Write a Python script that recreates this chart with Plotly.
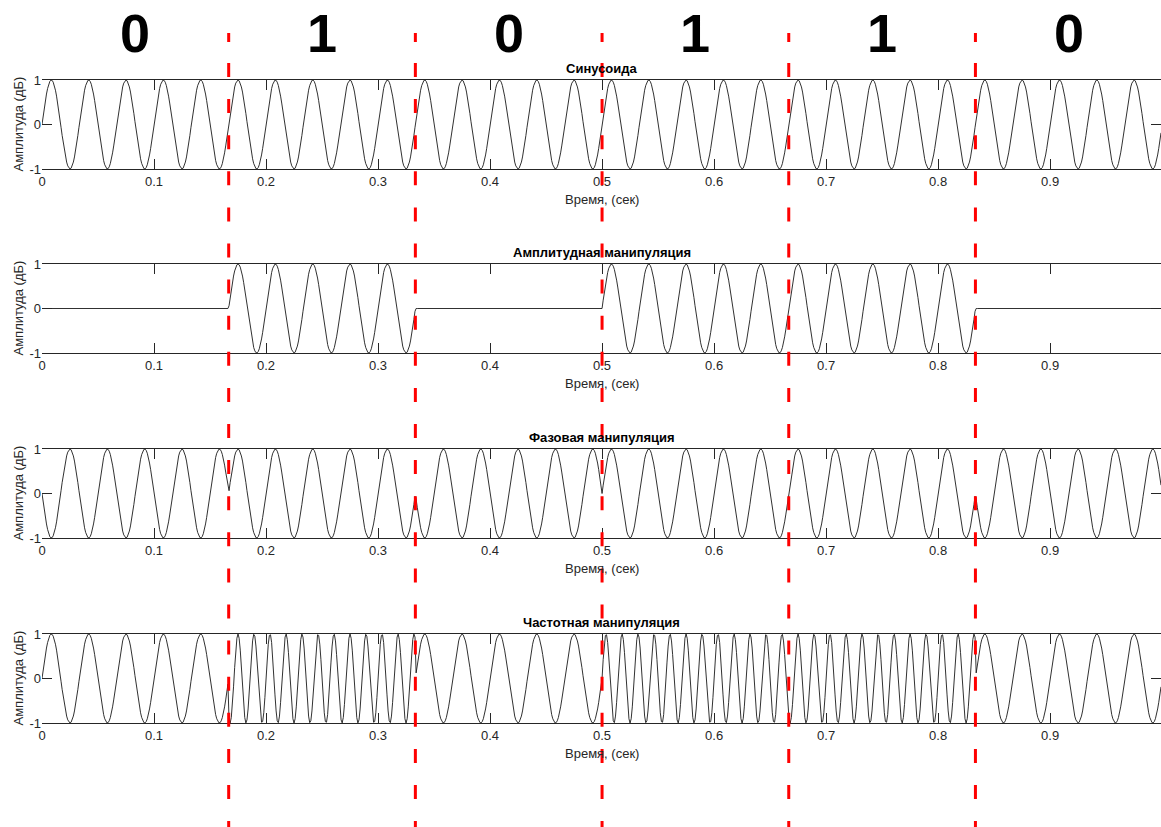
import numpy as np
import plotly.graph_objects as go

# Bit sequence and modulation parameters
bits = [0, 1, 0, 1, 1, 0]
sample_rate = 1000          # samples per second
carrier_hz = 30             # carrier frequency
fsk_hz = [30, 70]           # FSK frequency for bit 0 / bit 1
duration = 1.0

panel_titles = ["Синусоида", "Амплитудная манипуляция",
                "Фазовая манипуляция", "Частотная манипуляция"]
x_tick_vals = [0, 0.1, 0.2, 0.3, 0.4, 0.5, 0.6, 0.7, 0.8, 0.9]
x_tick_text = ["0", "0.1", "0.2", "0.3", "0.4", "0.5", "0.6", "0.7", "0.8", "0.9"]
y_tick_vals = [-1, 0, 1]
y_tick_text = ["-1", "0", "1"]
x_label = "Время, (сек)"
y_label = "Амплитуда (дБ)"

# Time base and per-sample bit value
t = np.arange(int(sample_rate * duration)) / sample_rate
n_bits = len(bits)
bit_idx = np.minimum(np.floor(t * n_bits / duration + 1e-9).astype(int), n_bits - 1)
b = np.array(bits)[bit_idx]

carrier = np.sin(2 * np.pi * carrier_hz * t)
am = b * carrier
psk = np.where(b == 1, carrier, -carrier)
fsk = np.sin(2 * np.pi * np.array(fsk_hz)[b] * t)
signals = [carrier, am, psk, fsk]

W, H = 1161, 827
FONT = "Liberation Sans, Arial, Helvetica, sans-serif"
AX_COLOR = "#262626"

# pixel rows (top, bottom) of each panel
rows_px = [(80, 169), (264, 353), (449, 538), (634, 723)]
left_px = 42

fig = go.Figure()
layout = dict(
    width=W, height=H,
    margin=dict(l=0, r=0, t=0, b=0, pad=0, autoexpand=False),
    paper_bgcolor="white", plot_bgcolor="white",
    showlegend=False,
    font=dict(family=FONT, size=13, color=AX_COLOR),
)

annotations = []
shapes = []
for i, (sig, title, (top, bot)) in enumerate(zip(signals, panel_titles, rows_px)):
    k = "" if i == 0 else str(i + 1)
    fig.add_trace(go.Scatter(
        x=t, y=sig, mode="lines",
        line=dict(color="#1a1a1a", width=0.9),
        xaxis="x" + k, yaxis="y" + k, hoverinfo="skip",
    ))
    layout["xaxis" + k] = dict(
        domain=[left_px / W, 1.0], range=[0, t[-1]], anchor="y" + k,
        showline=True, linecolor=AX_COLOR, linewidth=1, mirror="ticks",
        ticks="inside", ticklen=10, tickcolor=AX_COLOR, tickwidth=1,
        tickvals=x_tick_vals, ticktext=x_tick_text,
        showgrid=False, zeroline=False, automargin=False,
        tickfont=dict(family=FONT, size=13, color=AX_COLOR),
    )
    layout["yaxis" + k] = dict(
        domain=[1 - bot / H, 1 - top / H], range=[-1, 1], anchor="x" + k,
        showline=False, mirror="ticks",
        ticks="inside", ticklen=10, tickcolor=AX_COLOR, tickwidth=1,
        tickvals=y_tick_vals, ticktext=y_tick_text,
        showgrid=False, zeroline=False, automargin=False,
        tickfont=dict(family=FONT, size=13, color=AX_COLOR),
    )
    # panel title
    annotations.append(dict(
        text="<b>" + title + "</b>", xref="paper", yref="paper",
        x=(left_px / W + 1) / 2, y=1 - (top - 2) / H,
        xanchor="center", yanchor="bottom", showarrow=False,
        font=dict(family=FONT, size=13, color="black"),
    ))
    # x axis label
    annotations.append(dict(
        text=x_label, xref="paper", yref="paper",
        x=(left_px / W + 1) / 2, y=1 - (bot + 30) / H,
        xanchor="center", yanchor="middle", showarrow=False,
        font=dict(family=FONT, size=13, color=AX_COLOR),
    ))
    # y axis label
    annotations.append(dict(
        text=y_label, xref="paper", yref="paper",
        x=18 / W, y=1 - (top + bot) / 2 / H, textangle=-90,
        xanchor="center", yanchor="middle", showarrow=False,
        font=dict(family=FONT, size=13, color=AX_COLOR),
    ))

# dash pattern for the bit boundaries: short leading dash, then regular dashes
boundary_dash = ",".join(["9px", "21px"] + ["14px", "22.1px"] * 24)

# bit values above the panels and bit boundaries
for j, bit in enumerate(bits):
    annotations.append(dict(
        text="<b>%d</b>" % bit, xref="x", yref="paper",
        x=(j + 0.5) * duration / n_bits, y=1 - 33 / H,
        xanchor="center", yanchor="middle", showarrow=False,
        font=dict(family=FONT, size=54, color="black"),
    ))
    if j > 0:
        shapes.append(dict(
            type="line", xref="x", yref="paper",
            x0=j * duration / n_bits, x1=j * duration / n_bits,
            y0=1 - 33 / H, y1=0,
            line=dict(color="#FF0000", width=3, dash=boundary_dash),
            layer="above",
        ))

layout["annotations"] = annotations
layout["shapes"] = shapes
fig.update_layout(**layout)
fig.write_html("out.html")
